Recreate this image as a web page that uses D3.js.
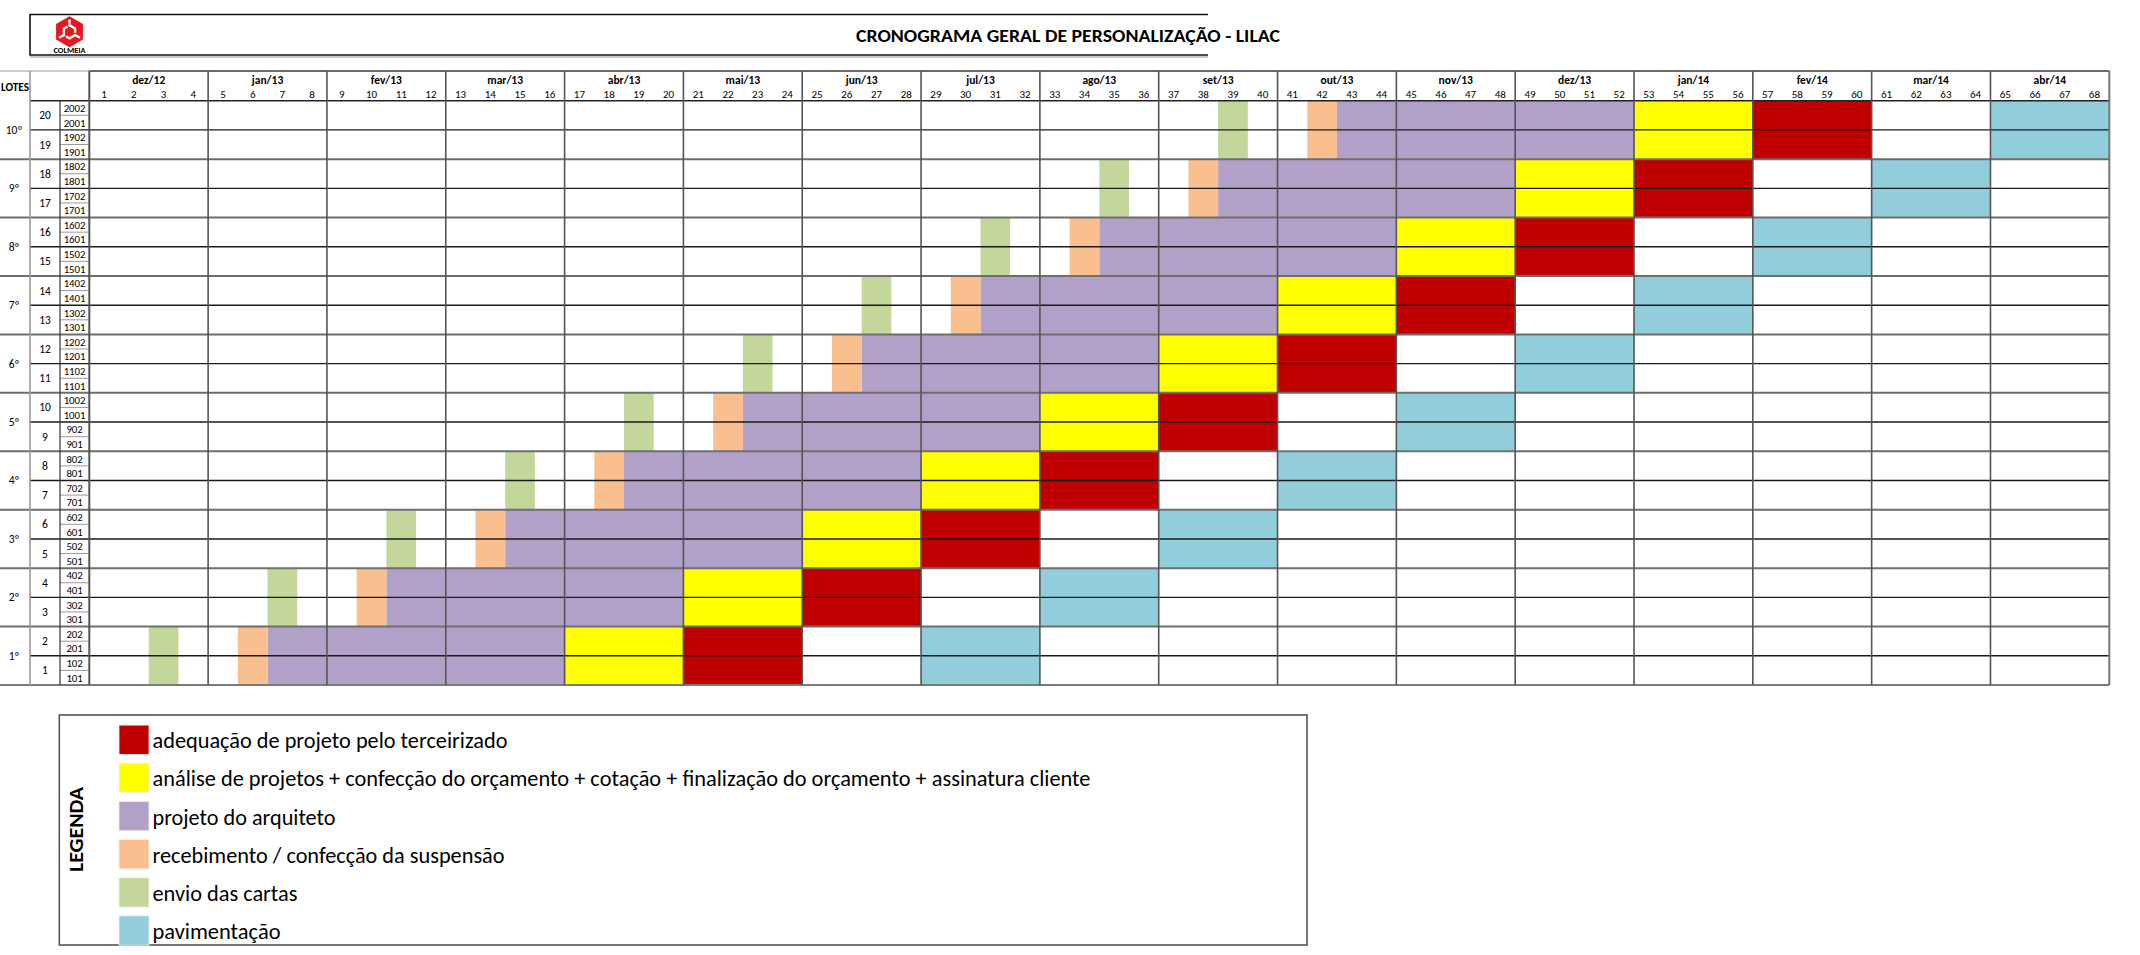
<!DOCTYPE html>
<html>
<head>
<meta charset="utf-8">
<script src="https://cdn.jsdelivr.net/npm/d3@7"></script>
<style>
  html, body { margin: 0; padding: 0; background: #fff; }
  svg { display: block; }
  text { font-family: "Carlito", "Open Sans", "Liberation Sans", sans-serif; fill: #000; }
</style>
</head>
<body>
<svg id="chart" width="2140" height="955"></svg>
<script>
// ---------------- DATA ----------------
const titleText = "CRONOGRAMA GERAL DE PERSONALIZAÇÃO - LILAC";
const months = ["dez/12","jan/13","fev/13","mar/13","abr/13","mai/13","jun/13","jul/13","ago/13","set/13","out/13","nov/13","dez/13","jan/14","fev/14","mar/14","abr/14"];
const weeks = d3.range(1, 69);
const loteLabels = ["10º","9º","8º","7º","6º","5º","4º","3º","2º","1º"];
const loteIds = [10,9,8,7,6,5,4,3,2,1];
const lotNumbers = [20,19,18,17,16,15,14,13,12,11,10,9,8,7,6,5,4,3,2,1];
const unitLabels = ["2002","2001","1902","1901","1802","1801","1702","1701","1602","1601","1502","1501",
  "1402","1401","1302","1301","1202","1201","1102","1101","1002","1001","902","901",
  "802","801","702","701","602","601","502","501","402","401","302","301","202","201","102","101"];

// phase start / end week for lote 1..10
const adequacaoStart    = [21,25,29,33,37,41,45,49,53,57];
const adequacaoEnd      = [24,28,32,36,40,44,48,52,56,60];
const analiseStart      = [17,21,25,29,33,37,41,45,49,53];
const analiseEnd        = [20,24,28,32,36,40,44,48,52,56];
const arquitetoStart    = [7,11,15,19,23,27,31,35,39,43];
const arquitetoEnd      = [16,20,24,28,32,36,40,44,48,52];
const suspensaoStart    = [6,10,14,18,22,26,30,34,38,42];
const suspensaoEnd      = [6,10,14,18,22,26,30,34,38,42];
const cartasStart       = [3,7,11,15,19,23,27,31,35,39];
const cartasEnd         = [3,7,11,15,19,23,27,31,35,39];
const pavimentacaoStart = [29,33,37,41,45,49,53,57,61,65];
const pavimentacaoEnd   = [32,36,40,44,48,52,56,60,64,68];

const phaseNames = [
  "adequação de projeto pelo terceirizado",
  "análise de projetos + confecção do orçamento + cotação + finalização do orçamento + assinatura cliente",
  "projeto do arquiteto",
  "recebimento / confecção da suspensão",
  "envio das cartas",
  "pavimentação"
];
const phaseColors = ["#C00000","#FFFF00","#B1A0C7","#FABF8F","#C4D79B","#92CDDC"];
const phaseStarts = [adequacaoStart, analiseStart, arquitetoStart, suspensaoStart, cartasStart, pavimentacaoStart];
const phaseEnds   = [adequacaoEnd, analiseEnd, arquitetoEnd, suspensaoEnd, cartasEnd, pavimentacaoEnd];
const legendWidths = [355, 938, 183, 352, 145, 128];

// ---------------- LAYOUT ----------------
const svg = d3.select("#chart");
const colL = 0, colLot = 30, colUnit = 60, gx0 = 89.3, gx1 = 2109.3;
const hy0 = 71, hy1 = 100.7, gy1 = 685;

const x = d3.scaleBand().domain(weeks).range([gx0, gx1]).padding(0);
const xm = d3.scaleBand().domain(months).range([gx0, gx1]).padding(0);
const yRow = d3.scaleBand().domain(unitLabels).range([hy1, gy1]).padding(0);
const yLot = d3.scaleBand().domain(lotNumbers).range([hy1, gy1]).padding(0);
const yLote = d3.scaleBand().domain(loteIds).range([hy1, gy1]).padding(0);

// ---------------- TITLE BOX ----------------
const tb = svg.append("g");
tb.append("line").attr("x1", 30).attr("x2", 1208).attr("y1", 57).attr("y2", 57).attr("stroke", "#c8c8c8").attr("stroke-width", 2);
tb.append("path").attr("d", "M1208,14.5 H30 V55 H1208").attr("fill", "none").attr("stroke", "#111").attr("stroke-width", 1.6);
// logo
const lg = tb.append("g").attr("transform", "translate(69.5,31.8)");
const hex = (r) => d3.range(6).map(i => { const a = (-90 + 60 * i) * Math.PI / 180; return [r * Math.cos(a), r * Math.sin(a)]; });
const outer = hex(15.5);
lg.append("path").attr("d", "M" + outer.map(p => p.join(",")).join("L") + "Z").attr("fill", "#E8171D");
const inner = hex(6.5);
for (let i = 0; i < 6; i += 2) {
  const a = inner[i], b = inner[(i + 1) % 6], c = inner[(i + 2) % 6];
  const o = hex(12)[i];
  lg.append("path").attr("d", `M${o[0]},${o[1]} L${a[0]},${a[1]} L${b[0]},${b[1]} L${(b[0]*0.35+c[0]*0.65)},${(b[1]*0.35+c[1]*0.65)}`)
    .attr("fill", "none").attr("stroke", "#fff").attr("stroke-width", 2.4).attr("stroke-linejoin", "miter");
}
tb.append("text").attr("x", 69.5).attr("y", 53).attr("text-anchor", "middle").attr("font-size", 7.5).attr("font-weight", 700)
  .attr("font-family", "Liberation Sans, Arial, sans-serif").attr("textLength", 32).attr("lengthAdjust", "spacingAndGlyphs").text("COLMEIA");
tb.append("text").attr("x", 856).attr("y", 41.5).attr("font-size", 19).attr("font-weight", 700)
  .attr("textLength", 424).attr("lengthAdjust", "spacingAndGlyphs").text(titleText);

// ---------------- BARS ----------------
const bars = svg.append("g");
phaseNames.forEach((name, pi) => {
  loteIds.forEach(l => {
    const s = phaseStarts[pi][l - 1], e = phaseEnds[pi][l - 1];
    bars.append("rect")
      .attr("x", x(s)).attr("width", x(e) + x.bandwidth() - x(s))
      .attr("y", yLote(l)).attr("height", yLote.bandwidth())
      .attr("fill", phaseColors[pi]);
  });
});

// ---------------- GRID LINES ----------------
const gl = svg.append("g").attr("fill", "none");
lotNumbers.forEach(n => {
  const yy = yLot(n) + yLot.bandwidth() / 2;
  gl.append("line").attr("x1", colUnit).attr("x2", gx0).attr("y1", yy).attr("y2", yy).attr("stroke", "#9a9a9a").attr("stroke-width", 1);
});
lotNumbers.forEach((n, i) => {
  if (i % 2 === 0) {
    const yy = yLot(n) + yLot.bandwidth();
    gl.append("line").attr("x1", colLot).attr("x2", gx1).attr("y1", yy).attr("y2", yy).attr("stroke", "#1a1a1a").attr("stroke-width", 1.4);
  }
});
loteIds.forEach((l, i) => {
  if (i > 0) {
    const yy = yLote(l);
    gl.append("line").attr("x1", colL).attr("x2", gx1).attr("y1", yy).attr("y2", yy).attr("stroke", "#6e6e6e").attr("stroke-width", 2);
  }
});
gl.append("line").attr("x1", colL).attr("x2", gx0).attr("y1", hy0).attr("y2", hy0).attr("stroke", "#9a9a9a").attr("stroke-width", 1.2);
gl.append("line").attr("x1", gx0).attr("x2", gx1).attr("y1", hy0).attr("y2", hy0).attr("stroke", "#6a6a6a").attr("stroke-width", 2);
gl.append("line").attr("x1", colLot).attr("x2", gx1).attr("y1", hy1).attr("y2", hy1).attr("stroke", "#222").attr("stroke-width", 1.5);
gl.append("line").attr("x1", colL).attr("x2", gx1).attr("y1", gy1).attr("y2", gy1).attr("stroke", "#7a7a7a").attr("stroke-width", 2);
gl.append("line").attr("x1", colLot).attr("x2", colLot).attr("y1", hy0).attr("y2", gy1).attr("stroke", "#9a9a9a").attr("stroke-width", 1.6);
gl.append("line").attr("x1", colUnit).attr("x2", colUnit).attr("y1", hy1).attr("y2", gy1).attr("stroke", "#333").attr("stroke-width", 1.2);
months.forEach((m, i) => {
  const xx = xm(m);
  gl.append("line").attr("x1", xx).attr("x2", xx).attr("y1", hy0).attr("y2", gy1).attr("stroke", "#555").attr("stroke-width", i === 0 ? 2 : 1.6);
});
gl.append("line").attr("x1", gx1).attr("x2", gx1).attr("y1", hy0).attr("y2", gy1).attr("stroke", "#777").attr("stroke-width", 2);

// ---------------- HEADER TEXT ----------------
const ht = svg.append("g");
ht.append("text").attr("x", 1).attr("y", 91).attr("font-size", 11).attr("font-weight", 700)
  .attr("textLength", 28).attr("lengthAdjust", "spacingAndGlyphs").text("LOTES");
ht.selectAll(".mlab").data(months).join("text").attr("class", "mlab")
  .attr("x", d => xm(d) + xm.bandwidth() / 2).attr("y", 83.5).attr("text-anchor", "middle")
  .attr("font-size", 11.5).attr("font-weight", 700).text(d => d);
ht.selectAll(".wlab").data(weeks).join("text").attr("class", "wlab")
  .attr("x", d => x(d) + x.bandwidth() / 2).attr("y", 97.5).attr("text-anchor", "middle")
  .attr("font-size", 11).text(d => d);

// ---------------- ROW LABELS ----------------
const rl = svg.append("g");
rl.selectAll(".lote").data(loteIds).join("text").attr("class", "lote")
  .attr("x", 14).attr("y", d => yLote(d) + yLote.bandwidth() / 2 + 4).attr("text-anchor", "middle")
  .attr("font-size", 11.5).text((d, i) => loteLabels[i]);
rl.selectAll(".lot").data(lotNumbers).join("text").attr("class", "lot")
  .attr("x", 45).attr("y", d => yLot(d) + yLot.bandwidth() / 2 + 4).attr("text-anchor", "middle")
  .attr("font-size", 11.5).text(d => d);
rl.selectAll(".unit").data(unitLabels).join("text").attr("class", "unit")
  .attr("x", 74.6).attr("y", d => yRow(d) + yRow.bandwidth() / 2 + 4).attr("text-anchor", "middle")
  .attr("font-size", 10.8).text(d => d);

// ---------------- LEGEND ----------------
const leg = svg.append("g");
leg.append("rect").attr("x", 59.3).attr("y", 715).attr("width", 1307 - 59.3).attr("height", 945 - 715)
  .attr("fill", "none").attr("stroke", "#555").attr("stroke-width", 1.6);
const ly = d3.scalePoint().domain(phaseNames).range([739.7, 930.5]);
leg.selectAll(".sw").data(phaseNames).join("rect").attr("class", "sw")
  .attr("x", 119).attr("y", d => ly(d) - 14.6).attr("width", 30).attr("height", 29.3)
  .attr("fill", (d, i) => phaseColors[i]).attr("stroke", "#f4eeee").attr("stroke-width", 0.8);
leg.selectAll(".lt").data(phaseNames).join("text").attr("class", "lt")
  .attr("x", 152.5).attr("y", d => ly(d) + 8.5).attr("font-size", 22)
  .attr("textLength", (d, i) => legendWidths[i]).attr("lengthAdjust", "spacingAndGlyphs").text(d => d);
leg.append("text").attr("transform", "translate(83,829.5) rotate(-90)").attr("text-anchor", "middle")
  .attr("font-size", 20).attr("font-weight", 800).attr("textLength", 85).attr("lengthAdjust", "spacingAndGlyphs").text("LEGENDA");
</script>
</body>
</html>
